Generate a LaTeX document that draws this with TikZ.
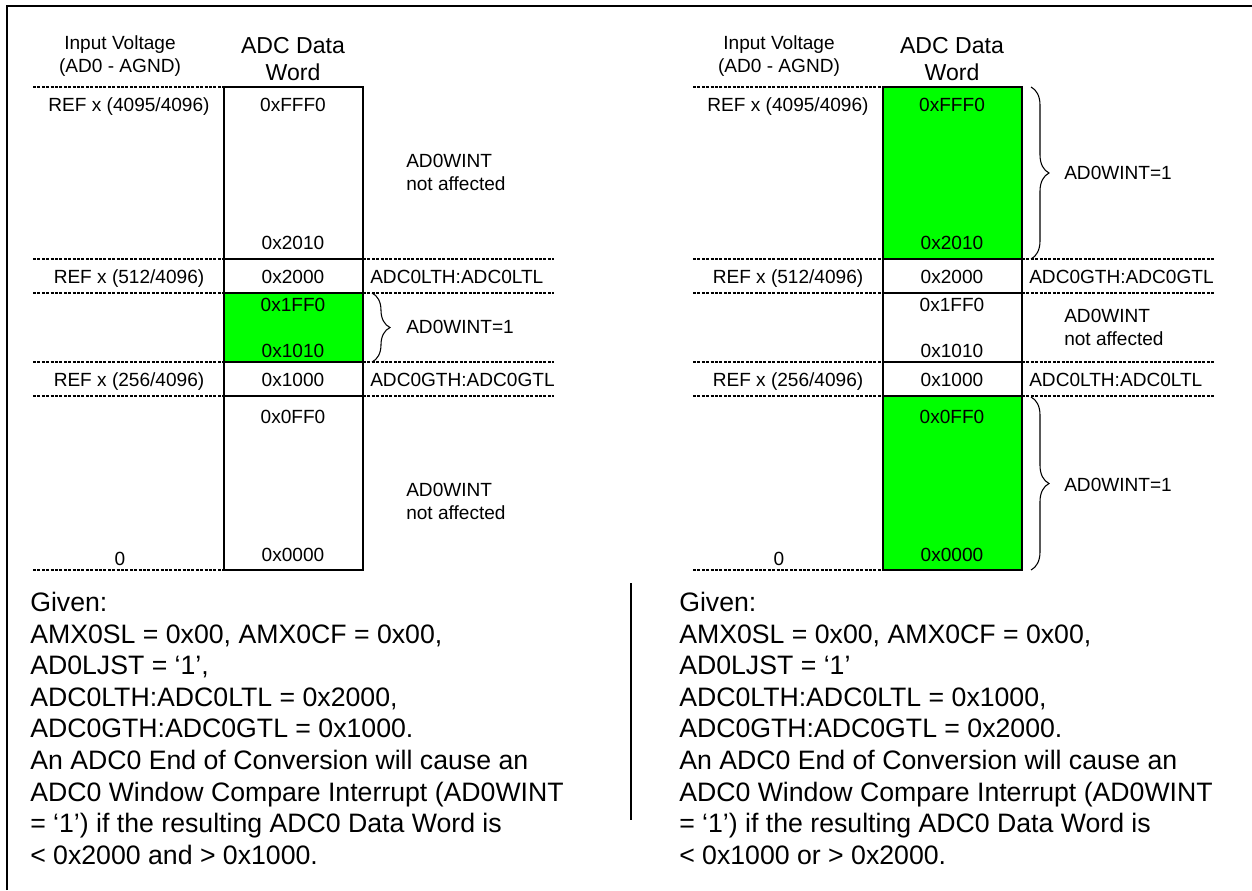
\documentclass[tikz,border=0pt]{standalone}
\usepackage{fontspec}
\setmainfont{Liberation Sans}
\usetikzlibrary{decorations.pathreplacing}
\definecolor{hit}{RGB}{0,255,0}
\tikzset{
  lbl/.style={font=\fontsize{14.3}{16}\selectfont, inner sep=0pt, anchor=base},
  lblw/.style={lbl, anchor=base west},
  head/.style={font=\fontsize{17.3}{20}\selectfont, inner sep=0pt, anchor=base},
  body/.style={font=\fontsize{20}{24}\selectfont, inner sep=0pt, anchor=base west},
  seg/.style={draw=black, line width=1.4pt},
  guide/.style={line width=0.9pt, dash pattern=on 2.2pt off 1.1pt},
  brc/.style={decorate, decoration={brace, amplitude=13.5pt}, line width=0.8pt},
  frame/.style={line width=1.6pt},
}
\begin{document}
\begin{tikzpicture}[x=0.75pt,y=-0.75pt]
\useasboundingbox (0,0) rectangle (1252,890);
% frame
\draw[frame] (7,890) -- (7,6.4) -- (1252,6.4);
% divider
\draw[line width=1.5pt] (631,583) -- (631,820);

% ---------------- left panel ----------------
\foreach \yy in {259,293,362,396} {
  \draw[guide] (33,\yy) -- (224,\yy);
  \draw[guide] (363,\yy) -- (554,\yy);
}
\draw[guide] (33,87) -- (224,87);
\draw[guide] (33,570) -- (224,570);
\draw[seg] (224,87) rectangle (363,259);
\draw[seg] (224,259) rectangle (363,293);
\draw[seg,fill=hit] (224,293) rectangle (363,362);
\draw[seg] (224,362) rectangle (363,396);
\draw[seg] (224,396) rectangle (363,570);
\draw[brc] (372,293) -- (372,362);

\node[lbl] (L-iv1) at (120,49) {Input Voltage};
\node[lbl] (L-iv2) at (120,72) {(AD0 - AGND)};
\node[head] (L-h1) at (293,53) {ADC Data};
\node[head] (L-h2) at (293,80) {Word};
\node[lbl] (L-r1) at (129,111) {REF x (4095/4096)};
\node[lbl] (L-r2) at (129,283) {REF x (512/4096)};
\node[lbl] (L-r3) at (129,386) {REF x (256/4096)};
\node[lbl] (L-r4) at (120,565) {0};
\node[lbl] (L-v1) at (293,111) {0xFFF0};
\node[lbl] (L-v2) at (293,249) {0x2010};
\node[lbl] (L-v3) at (293,283) {0x2000};
\node[lbl] (L-v4) at (293,311) {0x1FF0};
\node[lbl] (L-v5) at (293,357) {0x1010};
\node[lbl] (L-v6) at (293,386) {0x1000};
\node[lbl] (L-v7) at (293,423) {0x0FF0};
\node[lbl] (L-v8) at (293,561) {0x0000};
\node[lblw] (L-n1) at (406,167) {AD0WINT};
\node[lblw] (L-n2) at (406,190) {not affected};
\node[lblw] (L-th1) at (370,283) {ADC0LTH:ADC0LTL};
\node[lblw] (L-w) at (406,333) {AD0WINT=1};
\node[lblw] (L-th2) at (370,386) {ADC0GTH:ADC0GTL};
\node[lblw] (L-n3) at (406,496) {AD0WINT};
\node[lblw] (L-n4) at (406,519) {not affected};

\foreach [count=\i] \t in {{Given:},{AMX0SL = 0x00, AMX0CF = 0x00,},{AD0LJST = ‘1’,},{ADC0LTH:ADC0LTL = 0x2000,},{ADC0GTH:ADC0GTL = 0x1000.},{An ADC0 End of Conversion will cause an},{ADC0 Window Compare Interrupt (AD0WINT},{= ‘1’) if the resulting ADC0 Data Word is},{< 0x2000 and > 0x1000.}}
  \node[body] (L-t\i) at (30,{611.5+31.6*(\i-1)}) {\t};

% ---------------- right panel ----------------
\begin{scope}[shift={(659,0)}]
\foreach \yy in {259,293,362,396} {
  \draw[guide] (34,\yy) -- (224,\yy);
  \draw[guide] (363,\yy) -- (555,\yy);
}
\draw[guide] (34,87) -- (224,87);
\draw[guide] (34,570) -- (224,570);
\draw[seg,fill=hit] (224,87) rectangle (363,259);
\draw[seg] (224,259) rectangle (363,293);
\draw[seg] (224,293) rectangle (363,362);
\draw[seg] (224,362) rectangle (363,396);
\draw[seg,fill=hit] (224,396) rectangle (363,570);
\draw[brc] (372,87) -- (372,259);
\draw[brc] (372,397) -- (372,570);

\node[lbl] (R-iv1) at (120,49) {Input Voltage};
\node[lbl] (R-iv2) at (120,72) {(AD0 - AGND)};
\node[head] (R-h1) at (293,53) {ADC Data};
\node[head] (R-h2) at (293,80) {Word};
\node[lbl] (R-r1) at (129,111) {REF x (4095/4096)};
\node[lbl] (R-r2) at (129,283) {REF x (512/4096)};
\node[lbl] (R-r3) at (129,386) {REF x (256/4096)};
\node[lbl] (R-r4) at (120,565) {0};
\node[lbl] (R-v1) at (293,111) {0xFFF0};
\node[lbl] (R-v2) at (293,249) {0x2010};
\node[lbl] (R-v3) at (293,283) {0x2000};
\node[lbl] (R-v4) at (293,311) {0x1FF0};
\node[lbl] (R-v5) at (293,357) {0x1010};
\node[lbl] (R-v6) at (293,386) {0x1000};
\node[lbl] (R-v7) at (293,423) {0x0FF0};
\node[lbl] (R-v8) at (293,561) {0x0000};
\node[lblw] (R-w1) at (405,179) {AD0WINT=1};
\node[lblw] (R-th1) at (370,283) {ADC0GTH:ADC0GTL};
\node[lblw] (R-n1) at (405,322) {AD0WINT};
\node[lblw] (R-n2) at (405,345) {not affected};
\node[lblw] (R-th2) at (370,386) {ADC0LTH:ADC0LTL};
\node[lblw] (R-w2) at (405,491) {AD0WINT=1};
\end{scope}

\foreach [count=\i] \t in {{Given:},{AMX0SL = 0x00, AMX0CF = 0x00,},{AD0LJST = ‘1’},{ADC0LTH:ADC0LTL = 0x1000,},{ADC0GTH:ADC0GTL = 0x2000.},{An ADC0 End of Conversion will cause an},{ADC0 Window Compare Interrupt (AD0WINT},{= ‘1’) if the resulting ADC0 Data Word is},{< 0x1000 or > 0x2000.}}
  \node[body] (R-t\i) at (679,{611.5+31.6*(\i-1)}) {\t};
\end{tikzpicture}
\end{document}
